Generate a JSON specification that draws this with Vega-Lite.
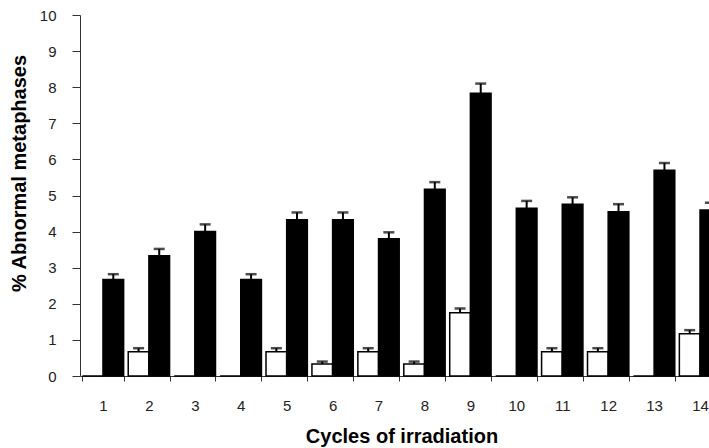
{
  "$schema": "https://vega.github.io/schema/vega-lite/v6.json",
  "autosize": {"type": "none"},
  "padding": {"left": 80, "top": 15, "right": 0, "bottom": 72},
  "width": 629,
  "height": 361,
  "background": "white",
  "config": {
    "view": {"stroke": null},
    "font": "Liberation Sans",
    "axis": {"grid": false, "domainColor": "#333", "tickColor": "#333", "labelColor": "#222", "titleColor": "#000", "labelFont": "Liberation Sans", "titleFont": "Liberation Sans", "titleFontWeight": "bold", "titleFontSize": 20, "labelFontSize": 15, "labelFontWeight": "normal", "labelOverlap": false}
  },
  "data": {
    "values": [
      {"cycle": "1", "group": "Control", "value": 0, "upper": null},
      {"cycle": "1", "group": "Irradiated", "value": 2.67, "upper": 2.82},
      {"cycle": "2", "group": "Control", "value": 0.67, "upper": 0.77},
      {"cycle": "2", "group": "Irradiated", "value": 3.33, "upper": 3.52},
      {"cycle": "3", "group": "Control", "value": 0, "upper": null},
      {"cycle": "3", "group": "Irradiated", "value": 4.0, "upper": 4.2},
      {"cycle": "4", "group": "Control", "value": 0, "upper": null},
      {"cycle": "4", "group": "Irradiated", "value": 2.67, "upper": 2.82},
      {"cycle": "5", "group": "Control", "value": 0.67, "upper": 0.77},
      {"cycle": "5", "group": "Irradiated", "value": 4.33, "upper": 4.53},
      {"cycle": "6", "group": "Control", "value": 0.33, "upper": 0.4},
      {"cycle": "6", "group": "Irradiated", "value": 4.33, "upper": 4.53},
      {"cycle": "7", "group": "Control", "value": 0.67, "upper": 0.77},
      {"cycle": "7", "group": "Irradiated", "value": 3.8, "upper": 3.98},
      {"cycle": "8", "group": "Control", "value": 0.33, "upper": 0.4},
      {"cycle": "8", "group": "Irradiated", "value": 5.17, "upper": 5.37},
      {"cycle": "9", "group": "Control", "value": 1.75, "upper": 1.87},
      {"cycle": "9", "group": "Irradiated", "value": 7.83, "upper": 8.1},
      {"cycle": "10", "group": "Control", "value": 0, "upper": null},
      {"cycle": "10", "group": "Irradiated", "value": 4.65, "upper": 4.85},
      {"cycle": "11", "group": "Control", "value": 0.67, "upper": 0.77},
      {"cycle": "11", "group": "Irradiated", "value": 4.76, "upper": 4.95},
      {"cycle": "12", "group": "Control", "value": 0.67, "upper": 0.77},
      {"cycle": "12", "group": "Irradiated", "value": 4.55, "upper": 4.76},
      {"cycle": "13", "group": "Control", "value": 0, "upper": null},
      {"cycle": "13", "group": "Irradiated", "value": 5.7, "upper": 5.9},
      {"cycle": "14", "group": "Control", "value": 1.17, "upper": 1.27},
      {"cycle": "14", "group": "Irradiated", "value": 4.6, "upper": 4.8}
    ]
  },
  "encoding": {
    "x": {
      "field": "cycle", "type": "ordinal", "sort": null,
      "scale": {"range": [0, 643], "paddingInner": 0.1, "paddingOuter": 0.05},
      "axis": {"title": "Cycles of irradiation", "labelAngle": 0, "tickBand": "extent", "tickSize": 5, "labelPadding": 17, "titlePadding": 13}
    },
    "xOffset": {"field": "group", "type": "nominal", "sort": ["Control", "Irradiated"], "scale": {"paddingInner": 0, "paddingOuter": 0}}
  },
  "layer": [
    {
      "mark": {"type": "bar", "stroke": "black", "strokeWidth": 1.5},
      "encoding": {
        "y": {"field": "value", "type": "quantitative", "scale": {"domain": [0, 10], "nice": false},
          "axis": {"title": "% Abnormal metaphases", "values": [0,1,2,3,4,5,6,7,8,9,10], "labelOverlap": false, "tickSize": 8, "labelPadding": 16, "titlePadding": 10, "titleY": 158}},
        "fill": {"field": "group", "type": "nominal", "scale": {"domain": ["Control", "Irradiated"], "range": ["white", "black"]}, "legend": null}
      }
    },
    {
      "transform": [{"filter": "datum.upper != null"}],
      "mark": {"type": "rule", "color": "black", "strokeWidth": 2},
      "encoding": {
        "y": {"field": "value", "type": "quantitative",
          "axis": {"title": "% Abnormal metaphases", "values": [0,1,2,3,4,5,6,7,8,9,10], "labelOverlap": false, "tickSize": 8, "labelPadding": 16, "titlePadding": 10, "titleY": 158}},
        "y2": {"field": "upper"}
      }
    },
    {
      "transform": [{"filter": "datum.upper != null"}],
      "mark": {"type": "tick", "color": "black", "thickness": 2.5, "size": 11},
      "encoding": {
        "y": {"field": "upper", "type": "quantitative",
          "axis": {"title": "% Abnormal metaphases", "values": [0,1,2,3,4,5,6,7,8,9,10], "labelOverlap": false, "tickSize": 8, "labelPadding": 16, "titlePadding": 10, "titleY": 158}}
      }
    }
  ]
}
